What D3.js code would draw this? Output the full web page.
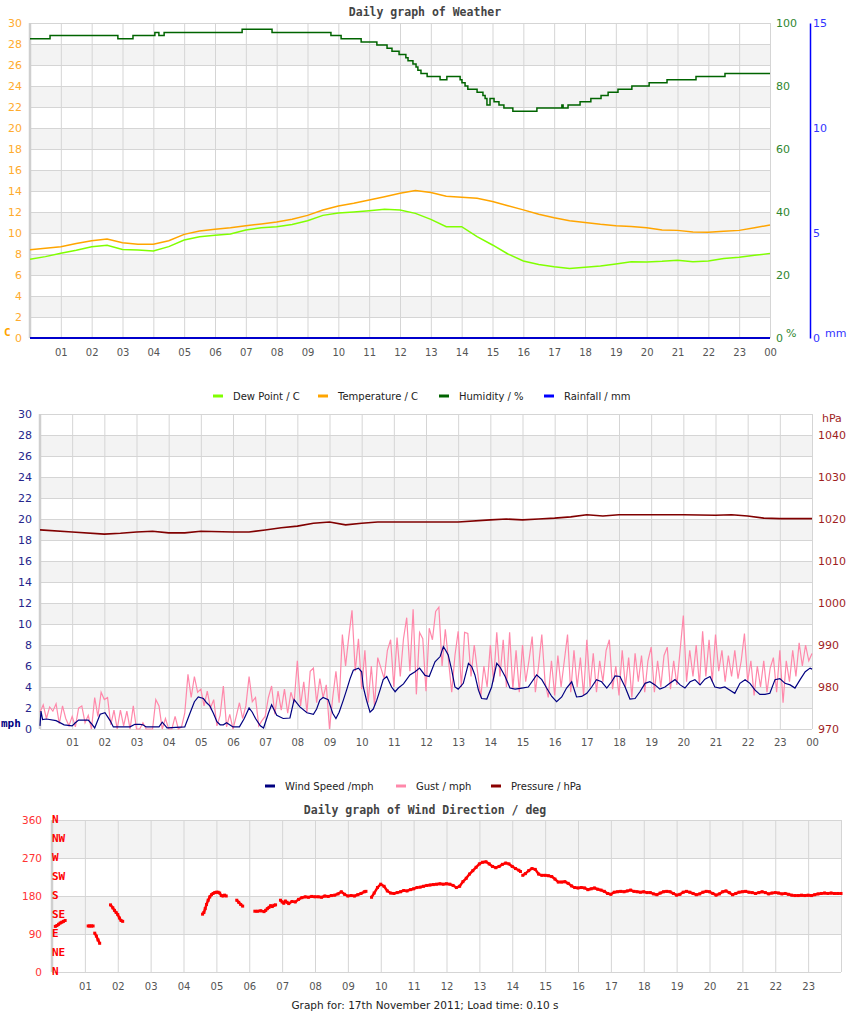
<!DOCTYPE html>
<html><head><meta charset="utf-8">
<script src="https://cdn.jsdelivr.net/npm/d3@7"></script>
<style>
body{margin:0;background:#fff;}
svg{display:block;}
</style></head><body>
<svg id="c" width="850" height="1017"></svg>
<script>
// ---------------- DATA ----------------
const halfHours = [0,0.5,1,1.5,2,2.5,3,3.5,4,4.5,5,5.5,6,6.5,7,7.5,8,8.5,9,9.5,10,10.5,11,11.5,12,12.5,13,13.5,14,14.5,15,15.5,16,16.5,17,17.5,18,18.5,19,19.5,20,20.5,21,21.5,22,22.5,23,23.5,24];
const temperature = [8.4,8.55,8.7,9.0,9.27,9.43,9.08,8.92,8.92,9.27,9.87,10.19,10.35,10.5,10.7,10.86,11.05,11.3,11.68,12.19,12.57,12.83,13.14,13.46,13.78,14.05,13.85,13.5,13.4,13.3,13.0,12.6,12.2,11.78,11.45,11.17,11.0,10.83,10.7,10.63,10.5,10.29,10.25,10.1,10.06,10.16,10.25,10.5,10.76];
const dewPoint = [7.5,7.75,8.07,8.35,8.7,8.83,8.44,8.38,8.28,8.7,9.33,9.65,9.78,9.9,10.29,10.5,10.6,10.8,11.17,11.68,11.9,12.0,12.13,12.25,12.19,11.87,11.3,10.6,10.6,9.65,8.86,8.0,7.33,7.0,6.79,6.63,6.73,6.86,7.05,7.27,7.24,7.3,7.4,7.27,7.33,7.56,7.68,7.87,8.06];
// humidity: step changes (hour, %)
const humTimes = [0,0.65,2.85,3.34,4.05,4.18,4.35,6.88,7.85,9.76,10.09,10.74,11.25,11.58,11.74,11.97,12.19,12.26,12.42,12.52,12.58,12.68,12.88,13.3,13.52,13.95,14.01,14.11,14.2,14.5,14.69,14.76,14.82,14.92,15.05,15.21,15.37,15.66,16.44,17.25,17.29,17.45,17.84,18.19,18.52,18.75,19.07,19.52,20.08,20.66,21.6,22.54,24];
const humidity = [95,96,95,96,97,96,97,98,97,96,95,94,93,92,91,90,89,88,87,86,85,84,83,82,83,82,81,80,79,78,77,76,74,76,75,74,73,72,73,74,73,74,75,76,77,78,79,80,81,82,83,84,84];
const rainTimes = [0,3,6,9,12,15,18,21,24];
const rainfall = [0,0,0,0,0,0,0,0,0];

const windTimes = [0,0.03,0.08,0.2,0.5,0.75,1.0,1.1,1.2,1.5,1.6,1.7,1.87,2.02,2.18,2.28,2.8,2.95,3.1,3.2,3.3,3.7,3.8,3.95,4.5,4.65,4.8,4.92,5.08,5.18,5.28,5.39,5.5,5.6,5.7,5.8,6.0,6.2,6.35,6.5,6.6,6.7,6.85,6.95,7.1,7.2,7.36,7.56,7.77,7.9,8.08,8.3,8.5,8.6,8.7,8.8,8.96,9.1,9.2,9.3,9.43,9.53,9.64,9.74,9.9,10.0,10.05,10.15,10.26,10.36,10.47,10.57,10.67,10.78,10.93,11.04,11.14,11.3,11.5,11.66,11.8,11.97,12.1,12.28,12.44,12.54,12.61,12.69,12.8,12.9,13.0,13.16,13.32,13.42,13.52,13.63,13.73,13.89,14.04,14.2,14.3,14.46,14.61,14.77,14.98,15.18,15.44,15.6,15.75,15.91,16.06,16.22,16.37,16.53,16.68,16.84,17.0,17.15,17.3,17.46,17.62,17.77,17.88,18.03,18.19,18.34,18.5,18.65,18.81,18.96,19.12,19.27,19.43,19.58,19.74,19.9,20.05,20.21,20.36,20.52,20.67,20.83,20.98,21.14,21.29,21.45,21.6,21.76,21.92,22.07,22.23,22.38,22.54,22.69,22.85,23.0,23.16,23.32,23.47,23.63,23.79,23.94,24];
const windSpeed = [0.3,1.7,0.9,0.95,0.8,0.4,0.3,0.6,0.85,0.85,0.5,0.1,1.4,1.55,0.8,0.2,0.2,0.45,0.45,0.4,0.2,0.2,0.65,0.1,0.2,1.4,2.6,3.05,2.9,2.5,2.2,1.5,0.7,0.4,0.4,0.6,0.2,0.2,1.0,2.0,1.6,1.0,0.3,0.1,1.5,2.3,1.3,1.0,1.05,2.8,2.1,1.55,1.4,1.9,2.75,3.0,2.8,1.5,1.0,1.6,2.75,3.7,4.8,5.6,5.8,5.45,4.0,2.75,1.6,1.9,2.75,3.7,4.7,5.0,4.0,3.55,3.9,4.3,5.15,5.45,5.8,5.1,5.0,6.4,6.9,7.85,7.5,7.05,5.6,4.0,3.8,4.35,6.25,5.95,5.15,3.7,2.9,2.85,4.0,6.25,5.9,5.0,3.9,3.8,3.9,4.0,5.15,4.7,3.9,3.1,2.6,3.05,3.9,4.5,3.05,3.1,3.4,4.0,4.7,4.5,3.9,4.5,5.05,5.0,4.0,2.85,2.9,3.55,4.35,4.5,4.2,3.8,4.0,4.35,4.7,4.2,3.9,4.5,4.7,4.2,4.75,5.0,4.0,3.9,4.0,3.7,3.4,4.35,4.7,4.35,3.7,3.3,3.3,3.4,4.7,4.8,4.35,4.2,3.9,4.7,5.45,5.8,5.7];
// gust, one reading every 0.1 h from 00:00 to 24:00
const gustStepHours = 0.1;
const gust = [
1.6,2.3,1.0,2.1,1.7,2.4,0.5,2.2,1.0,0.3,
1.2,0.2,2.0,2.2,0.6,1.3,0.0,3.0,1.2,3.5,
2.8,3.0,0.4,1.8,0.0,1.8,0.3,1.7,0.0,2.2,
0.0,0.0,0.6,0.0,0.0,0.0,2.8,2.2,0.0,1.0,
0.0,0.0,1.2,0.0,0.2,1.5,5.2,3.0,5.0,3.5,
3.8,2.2,3.6,2.0,2.8,0.3,1.3,4.1,0.2,1.4,
0.0,1.2,2.5,1.0,2.2,5.0,2.6,3.0,0.3,0.8,
1.2,3.0,4.1,1.4,3.6,1.8,3.8,1.5,3.5,2.5,
6.5,2.2,4.5,1.6,5.5,5.8,2.5,4.8,3.0,4.2,
0.0,3.0,5.5,2.5,9.0,6.0,8.8,11.3,5.5,8.6,
3.8,7.5,2.5,6.0,2.2,6.8,5.8,4.8,7.5,8.5,
4.0,8.7,5.0,8.6,10.6,5.5,11.4,3.3,9.2,8.6,
3.6,9.6,8.5,11.2,11.6,6.0,9.5,6.5,3.5,7.0,
9.3,4.0,9.2,9.1,5.0,8.0,5.5,3.0,6.0,4.0,
8.0,4.5,9.2,5.0,8.5,4.0,9.2,3.8,7.5,3.5,
8.0,4.5,6.5,8.8,3.5,6.0,9.0,4.5,3.0,6.5,
3.2,7.0,4.0,6.5,9.0,3.5,7.5,4.0,6.8,3.2,
8.5,4.0,7.2,3.5,6.5,4.5,7.5,8.5,3.8,6.0,
3.2,7.5,4.0,6.8,3.0,7.2,4.5,7.0,3.5,6.5,
7.8,3.5,6.5,4.0,7.0,7.8,3.8,6.5,4.2,7.5,
10.8,4.5,7.5,5.0,8.0,4.2,9.3,5.0,8.5,4.5,
9.0,5.5,7.5,4.5,7.0,5.0,7.5,4.8,6.5,9.1,
4.5,6.5,3.2,6.0,4.0,6.5,3.5,5.8,6.8,3.5,
7.5,2.5,6.5,4.5,7.5,5.0,8.2,6.0,8.0,6.5,
7.2];
const pressTimes = [0,1,2,2.5,3,3.5,4,4.5,5,6,6.5,7,7.5,8,8.5,9,9.5,10,10.5,11,12,13,14,14.5,15,15.5,16,16.5,17,17.5,18,19,20,21,21.5,22,22.5,23,24];
const pressure = [1017.4,1016.9,1016.4,1016.6,1016.9,1017.1,1016.7,1016.7,1017.1,1016.9,1016.9,1017.4,1017.9,1018.3,1019.0,1019.3,1018.6,1019.0,1019.3,1019.3,1019.3,1019.3,1019.8,1020.0,1019.8,1020.0,1020.2,1020.5,1021.0,1020.7,1021.0,1021.0,1021.0,1020.9,1021.0,1020.7,1020.2,1020.1,1020.1];

// wind direction (null = no reading, breaks the trace)
const dirTimes = [0.1,0.15,0.2,0.25,0.3,0.35,0.4,null,
1.1,1.15,1.2,1.25,null,1.3,1.35,1.4,1.45,null,
1.78,1.85,1.9,1.95,2.0,2.05,2.1,2.15,null,
4.58,4.62,4.66,4.7,4.75,4.8,4.85,4.9,4.95,5.0,5.05,5.1,5.15,5.2,5.25,5.3,null,
5.62,5.68,5.74,5.8,null,
6.17,6.25,6.35,6.45,6.5,6.55,6.6,6.65,6.7,6.75,6.8,null,
6.95,7.0,7.05,7.1,7.15,7.2,7.3,7.4,7.5,7.6,7.7,7.8,7.9,8.0,8.1,8.2,8.3,8.4,8.5,8.6,8.7,8.8,8.9,9.0,9.1,9.2,9.3,9.4,9.5,9.55,null,
9.72,9.8,9.9,10.0,10.1,10.2,10.3,10.4,10.5,10.6,10.7,10.8,10.9,11.0,11.1,11.2,11.3,11.4,11.5,11.6,11.7,11.8,11.9,12.0,12.1,12.2,12.3,12.4,12.5,12.6,12.7,12.8,12.9,13.0,13.1,13.2,13.3,13.4,13.5,13.6,13.7,13.8,13.9,14.0,14.1,14.2,14.25,null,
14.32,14.4,14.5,14.6,14.7,14.8,14.9,15.0,15.1,15.2,15.3,15.4,15.5,15.6,15.7,15.8,15.9,16.0,16.1,16.2,16.3,16.4,16.5,16.6,16.7,16.8,16.9,17.0,17.1,17.2,17.3,17.4,17.5,17.6,17.7,17.8,17.9,18.0,18.1,18.2,18.3,18.4,18.5,18.6,18.7,18.8,18.9,19.0,19.1,19.2,19.3,19.4,19.5,19.6,19.7,19.8,19.9,20.0,20.1,20.2,20.3,20.4,20.5,20.6,20.7,20.8,20.9,21.0,21.1,21.2,21.3,21.4,21.5,21.6,21.7,21.8,21.9,22.0,22.1,22.2,22.3,22.4,22.5,22.6,22.7,22.8,22.9,23.0,23.1,23.2,23.3,23.4,23.5,23.6,23.7,23.8,23.9,24.0];
const dirValues = [108,110,113,116,118,120,122,null,
109,109,109,109,null,92,85,76,68,null,
159,152,146,141,136,128,122,120,null,
137,141,150,160,170,178,183,186,188,189,189,187,181,180,182,180,null,
170,165,160,156,null,
144,144,145,143,146,150,153,157,155,158,159,null,
170,166,163,168,165,162,167,166,172,176,178,177,179,178,178,177,180,179,181,182,185,190,184,180,181,180,183,186,190,191,null,
177,187,200,208,203,192,187,186,188,190,193,192,195,197,200,201,203,205,206,207,208,209,208,209,208,205,200,203,214,222,232,240,248,256,260,261,256,250,247,250,255,258,256,250,245,241,238,null,
229,233,240,245,243,232,229,229,228,226,220,213,213,214,210,204,200,199,200,199,195,197,199,196,194,191,186,184,189,190,191,190,192,194,191,190,189,190,188,188,185,183,187,190,191,190,186,182,184,189,191,189,186,183,185,189,191,190,186,182,185,190,192,188,183,186,189,190,191,189,188,186,188,190,188,185,187,188,187,185,186,184,182,181,181,182,181,182,181,183,185,186,187,186,187,186,186,186];
const compassLabels = ["N","NE","E","SE","S","SW","W","NW","N"];

const legend1 = [["Dew Point / C","#80ff00"],["Temperature / C","#ffa500"],["Humidity / %","#006400"],["Rainfall / mm","#0000ff"]];
const legend2 = [["Wind Speed /mph","#000080"],["Gust / mph","#ff88aa"],["Pressure / hPa","#8b0000"]];

// ---------------- DRAWING ----------------
const svg = d3.select('#c');
const SANS = '"DejaVu Sans", sans-serif';
const MONO = '"DejaVu Sans Mono", monospace';
const pad2 = h => String(h % 24).padStart(2, '0');

function panel(c) {
  const x = d3.scaleLinear().domain([0, 24]).range([c.x0, c.x1]);
  const y = d3.scaleLinear().domain(c.yDom).range([c.y1, c.y0]);
  const g = svg.append('g');
  g.selectAll(null).data(c.bands).join('rect')
    .attr('x', c.x0).attr('width', c.x1 - c.x0)
    .attr('y', d => y(d[1])).attr('height', d => y(d[0]) - y(d[1]))
    .attr('fill', '#f3f3f3');
  const hg = g.append('g').attr('transform', `translate(${c.x0},0)`)
    .call(d3.axisLeft(y).tickValues(c.hGrid).tickSize(-(c.x1 - c.x0)).tickFormat(''));
  hg.select('.domain').remove();
  hg.selectAll('line').attr('stroke', '#d5d5d5');
  const vg = g.append('g').attr('transform', `translate(0,${c.y1})`)
    .call(d3.axisBottom(x).tickValues(d3.range(1, 25)).tickSize(-(c.y1 - c.y0)).tickFormat(''));
  vg.select('.domain').remove();
  vg.selectAll('line').attr('stroke', '#d5d5d5');
  g.append('line').attr('x1', c.x0).attr('x2', c.x0).attr('y1', c.y0).attr('y2', c.y1)
    .attr('stroke', '#cfcfcf').attr('stroke-width', 2.5);
  const xl = g.append('g').attr('transform', `translate(0,${c.y1})`)
    .call(d3.axisBottom(x).tickValues(c.labelHours).tickSize(0).tickPadding(c.labelPad).tickFormat(pad2));
  xl.select('.domain').remove();
  xl.selectAll('text').attr('fill', '#555').style('font-size', '10px').style('font-family', SANS);
  return { x, y, g };
}

function yAxis(axis, tx, color, size) {
  const a = svg.append('g').attr('transform', `translate(${tx},0)`).call(axis);
  a.select('.domain').remove();
  a.selectAll('text').attr('fill', color).style('font-size', size + 'px').style('font-family', SANS);
  return a;
}

function title(txt, cx, cy) {
  svg.append('text').attr('x', cx).attr('y', cy).attr('text-anchor', 'middle')
    .style('font-family', MONO).style('font-weight', 'bold').style('font-size', '11.5px')
    .attr('fill', '#444').text(txt);
}

function legend(items, x0, y, gaps) {
  let xx = x0;
  items.forEach((it, i) => {
    svg.append('line').attr('x1', xx).attr('x2', xx + 10).attr('y1', y).attr('y2', y)
      .attr('stroke', it[1]).attr('stroke-width', 3);
    svg.append('text').attr('x', xx + 20).attr('y', y + 4)
      .style('font-family', SANS).style('font-size', '10px').attr('fill', '#222').text(it[0]);
    xx += gaps[i];
  });
}

const evenBands = [[2,4],[6,8],[10,12],[14,16],[18,20],[22,24],[26,28]];
const twoStep = d3.range(0, 31, 2);

// ---- Chart 1 : weather ----
title('Daily graph of Weather', 425, 16);
const p1 = panel({ x0: 30, x1: 770, y0: 23, y1: 338, yDom: [0, 30], bands: evenBands, hGrid: twoStep,
  labelHours: d3.range(1, 25), labelPad: 11 });
const yHum = d3.scaleLinear().domain([0, 100]).range([338, 23]);
const yRain = d3.scaleLinear().domain([0, 15]).range([338, 23]);
yAxis(d3.axisLeft(p1.y).tickValues(twoStep).tickSize(0).tickPadding(8), 30, '#ffab2e', 11);
yAxis(d3.axisRight(yHum).tickValues([0,20,40,60,80,100]).tickSize(0).tickPadding(6), 770, '#2f862f', 11);
const ra = svg.append('g').attr('transform', 'translate(810,0)')
  .call(d3.axisRight(yRain).tickValues([0,5,10,15]).tickSize(0).tickSizeOuter(0).tickPadding(3));
ra.select('.domain').attr('stroke', '#0000ff').attr('stroke-width', 1.5);
ra.selectAll('text').attr('fill', '#3333ff').style('font-size', '11px').style('font-family', SANS);
svg.append('text').attr('x', 786).attr('y', 337).attr('fill', '#2f862f').style('font-size', '11px').style('font-family', SANS).text('%');
svg.append('text').attr('x', 825).attr('y', 337).attr('fill', '#3333ff').style('font-size', '11px').style('font-family', SANS).text('mm');
svg.append('text').attr('x', 4).attr('y', 336).attr('fill', '#ffa500').style('font-size', '11px').style('font-family', MONO).style('font-weight', 'bold').text('C');

const line1 = (xs, ys, yScale) => d3.line().x((d, i) => p1.x(xs[i])).y(d => yScale(d));
p1.g.append('path').attr('d', line1(rainTimes, rainfall, yRain)(rainfall)).attr('fill', 'none').attr('stroke', '#0000cc').attr('stroke-width', 2);
p1.g.append('path').attr('d', line1(halfHours, temperature, p1.y)(temperature)).attr('fill', 'none').attr('stroke', '#ffa500').attr('stroke-width', 1.5);
p1.g.append('path').attr('d', line1(halfHours, dewPoint, p1.y)(dewPoint)).attr('fill', 'none').attr('stroke', '#80ff00').attr('stroke-width', 1.5);
p1.g.append('path').attr('d', line1(humTimes, humidity, yHum).curve(d3.curveStepAfter)(humidity)).attr('fill', 'none').attr('stroke', '#006400').attr('stroke-width', 1.5);

legend(legend1, 213, 396, [105, 121, 105, 0]);

// ---- Chart 2 : wind ----
const p2 = panel({ x0: 40, x1: 812, y0: 414, y1: 729, yDom: [0, 30], bands: evenBands, hGrid: twoStep,
  labelHours: d3.range(1, 25), labelPad: 10 });
const yPress = d3.scaleLinear().domain([970, 1045]).range([729, 414]);
yAxis(d3.axisLeft(p2.y).tickValues(twoStep).tickSize(0).tickPadding(8), 40, '#26268c', 11);
yAxis(d3.axisRight(yPress).tickValues([970,980,990,1000,1010,1020,1030,1040]).tickFormat(d3.format('d')).tickSize(0).tickPadding(6), 812, '#a01e1e', 11);
svg.append('text').attr('x', 822).attr('y', 422).attr('fill', '#a01e1e').style('font-size', '11px').style('font-family', SANS).text('hPa');
svg.append('text').attr('x', 1).attr('y', 727).attr('fill', '#000080').style('font-size', '11px').style('font-family', MONO).style('font-weight', 'bold').text('mph');

p2.g.append('path').attr('d', d3.line().x((d, i) => p2.x(i * gustStepHours)).y(d => p2.y(d))(gust))
  .attr('fill', 'none').attr('stroke', '#ff88aa').attr('stroke-width', 1.2);
p2.g.append('path').attr('d', d3.line().x((d, i) => p2.x(windTimes[i])).y(d => p2.y(d))(windSpeed))
  .attr('fill', 'none').attr('stroke', '#000080').attr('stroke-width', 1.2);
p2.g.append('path').attr('d', d3.line().x((d, i) => p2.x(pressTimes[i])).y(d => yPress(d))(pressure))
  .attr('fill', 'none').attr('stroke', '#800000').attr('stroke-width', 1.6);

legend(legend2, 265, 786, [131, 95, 0]);

// ---- Chart 3 : wind direction ----
title('Daily graph of Wind Direction / deg', 425, 814);
const p3 = panel({ x0: 52, x1: 841, y0: 820, y1: 972, yDom: [0, 360], bands: [[90,180],[270,360]],
  hGrid: [0,90,180,270,360], labelHours: d3.range(1, 24), labelPad: 11 });
yAxis(d3.axisLeft(p3.y).tickValues([0,90,180,270,360]).tickSize(0).tickPadding(10), 52, '#ff3333', 10.5);
const dirPts = dirTimes.map((t, i) => ({ t, v: dirValues[i] }));
p3.g.append('path').attr('d', d3.line().defined(d => d.v != null).x(d => p3.x(d.t)).y(d => p3.y(d.v))(dirPts))
  .attr('fill', 'none').attr('stroke', '#ff0000').attr('stroke-width', 2.5).attr('stroke-linejoin', 'round');
p3.g.selectAll(null).data(dirPts.filter(d => d.v != null)).join('rect')
  .attr('x', d => p3.x(d.t) - 1.5).attr('y', d => p3.y(d.v) - 1.5).attr('width', 3).attr('height', 3).attr('fill', '#ff0000');
svg.selectAll(null).data(compassLabels).join('text')
  .attr('x', 52).attr('y', (d, i) => p3.y(i * 45)).attr('dy', '0.3em')
  .style('font-family', MONO).style('font-weight', 'bold').style('font-size', '11px')
  .attr('fill', '#ff0000').text(d => d);

svg.append('text').attr('x', 425).attr('y', 1009).attr('text-anchor', 'middle')
  .style('font-family', SANS).style('font-size', '10.5px').attr('fill', '#222')
  .text('Graph for: 17th November 2011; Load time: 0.10 s');
</script>
</body></html>
